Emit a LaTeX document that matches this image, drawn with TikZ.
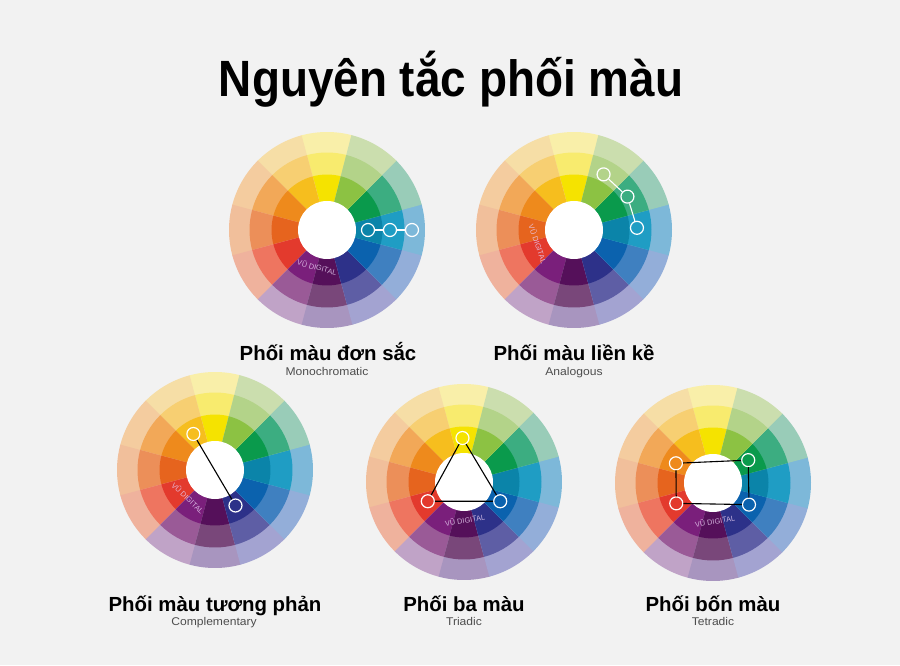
\documentclass[tikz,border=0pt]{standalone}
\usepackage{fontspec}
\setmainfont{Liberation Sans}
\newfontfamily\titlefont[FakeStretch=0.9]{Liberation Sans}
\newfontfamily\subfont[FakeStretch=1.08]{Liberation Sans}

\definecolor{bg}{HTML}{F2F2F2}
\definecolor{textgray}{HTML}{4D4D4D}
\definecolor{brandpink}{HTML}{E6CCF0}
% inner ring
\definecolor{ylwIn}{HTML}{F5E300}
\definecolor{yorIn}{HTML}{F6BE1E}
\definecolor{orgIn}{HTML}{EE8A1C}
\definecolor{rorIn}{HTML}{E6641E}
\definecolor{redIn}{HTML}{E33A2D}
\definecolor{purIn}{HTML}{7A1F7B}
\definecolor{dpuIn}{HTML}{55105A}
\definecolor{indIn}{HTML}{2D3189}
\definecolor{bluIn}{HTML}{0B62AE}
\definecolor{teaIn}{HTML}{0B84A9}
\definecolor{grnIn}{HTML}{0A9A4C}
\definecolor{ygrIn}{HTML}{8CC243}
% middle ring
\definecolor{ylwMid}{HTML}{F8EB6E}
\definecolor{yorMid}{HTML}{F7CF72}
\definecolor{orgMid}{HTML}{F2A858}
\definecolor{rorMid}{HTML}{EC8F59}
\definecolor{redMid}{HTML}{EE7560}
\definecolor{purMid}{HTML}{9A5A97}
\definecolor{dpuMid}{HTML}{79477A}
\definecolor{indMid}{HTML}{5E5EA5}
\definecolor{bluMid}{HTML}{3F80C0}
\definecolor{teaMid}{HTML}{1F9DC4}
\definecolor{grnMid}{HTML}{3CAD81}
\definecolor{ygrMid}{HTML}{B3D389}
% outer ring
\definecolor{ylwOut}{HTML}{F9EFA9}
\definecolor{yorOut}{HTML}{F6DEA6}
\definecolor{orgOut}{HTML}{F4CC9F}
\definecolor{rorOut}{HTML}{F1BF9B}
\definecolor{redOut}{HTML}{EFB29D}
\definecolor{purOut}{HTML}{C0A3C7}
\definecolor{dpuOut}{HTML}{A895BF}
\definecolor{indOut}{HTML}{A3A3D1}
\definecolor{bluOut}{HTML}{93AED9}
\definecolor{teaOut}{HTML}{7DB8D9}
\definecolor{grnOut}{HTML}{99CCB8}
\definecolor{ygrOut}{HTML}{CBDEAE}

% wheel with three rings of twelve hues, centre given as #1
\newcommand{\colorwheel}[1]{%
	\begin{scope}[shift={#1}]
		\foreach \a/\ci/\cm/\co in {90/ylwIn/ylwMid/ylwOut, 120/yorIn/yorMid/yorOut,
				150/orgIn/orgMid/orgOut, 180/rorIn/rorMid/rorOut, 210/redIn/redMid/redOut,
				240/purIn/purMid/purOut, 270/dpuIn/dpuMid/dpuOut, 300/indIn/indMid/indOut,
				330/bluIn/bluMid/bluOut, 0/teaIn/teaMid/teaOut, 30/grnIn/grnMid/grnOut,
				60/ygrIn/ygrMid/ygrOut}{
			\fill[\co] (0,0) -- (\a-15:98) arc[start angle=\a-15,end angle=\a+15.6,radius=98] -- cycle;
			\fill[\cm] (0,0) -- (\a-15:77.5) arc[start angle=\a-15,end angle=\a+15.6,radius=77.5] -- cycle;
			\fill[\ci] (0,0) -- (\a-15:55.5) arc[start angle=\a-15,end angle=\a+15.6,radius=55.5] -- cycle;
		}
		\fill[white] (0,0) circle[radius=29];
	\end{scope}}

\begin{document}
\begin{tikzpicture}[x=1pt,y=1pt,
		dot/.style={circle,draw=white,line width=1.2pt,minimum size=13pt,inner sep=0pt},
		link/.style={line width=1.1pt},
		brand/.style={text=brandpink,text opacity=0.85,font=\fontsize{7.4}{7.4}\selectfont},
		heading/.style={anchor=base,font=\bfseries\fontsize{20.4}{22}\selectfont},
		subheading/.style={anchor=base,text=textgray,font=\subfont\fontsize{11.2}{12}\selectfont}]
	\fill[bg] (0,0) rectangle (900,665);
	\node[anchor=base,font=\titlefont\bfseries\fontsize{51}{55}\selectfont] (title) at (451,568) {Nguyên tắc phối màu};

	\colorwheel{(327,435)}
	\colorwheel{(574,435)}
	\colorwheel{(215,195)}
	\colorwheel{(464,183)}
	\colorwheel{(713,182)}

	% monochromatic
	\begin{scope}[shift={(327,435)}]
		\node[dot] (mono1) at (0:41) {};
		\node[dot] (mono2) at (0:63) {};
		\node[dot] (mono3) at (0:85) {};
		\draw[link,white] (mono1) -- (mono2) (mono2) -- (mono3);
		\node[brand,rotate=-15] (brand1) at (-10,-37) {VŨ DIGITAL};
	\end{scope}
	% analogous
	\begin{scope}[shift={(574,435)}]
		\node[dot] (ana1) at (62:63) {};
		\node[dot] (ana2) at (32:63) {};
		\node[dot] (ana3) at (2:63) {};
		\draw[link,white] (ana1) -- (ana2) (ana2) -- (ana3);
		\node[brand,rotate=-71] (brand2) at (-36,-14) {VŨ DIGITAL};
	\end{scope}
	% complementary
	\begin{scope}[shift={(215,195)}]
		\node[dot] (comp1) at (121:42) {};
		\node[dot] (comp2) at (300:41) {};
		\draw[link] (comp1) -- (comp2);
		\node[brand,rotate=-43] (brand3) at (-27,-28) {VŨ DIGITAL};
	\end{scope}
	% triadic
	\begin{scope}[shift={(464,183)}]
		\node[dot] (tri1) at (92:44) {};
		\node[dot] (tri2) at (208:41) {};
		\node[dot] (tri3) at (332:41) {};
		\draw[link] (tri1) -- (tri2) (tri2) -- (tri3) (tri3) -- (tri1);
		\node[brand,rotate=10] (brand4) at (1,-38) {VŨ DIGITAL};
	\end{scope}
	% tetradic
	\begin{scope}[shift={(713,182)}]
		\node[dot] (tet1) at (152:42) {};
		\node[dot] (tet2) at (33:42) {};
		\node[dot] (tet3) at (-31:42) {};
		\node[dot] (tet4) at (209:42) {};
		\draw[link] (tet1) -- (tet2) (tet2) -- (tet3) (tet3) -- (tet4) (tet4) -- (tet1);
		\node[brand,rotate=10] (brand5) at (2,-38) {VŨ DIGITAL};
	\end{scope}

	\node[heading] (lmono) at (328,304) {Phối màu đơn sắc};
	\node[subheading] (smono) at (327,289) {Monochromatic};
	\node[heading] (lana) at (574,304) {Phối màu liền kề};
	\node[subheading] (sana) at (574,289) {Analogous};
	\node[heading] (lcomp) at (215,54) {Phối màu tương phản};
	\node[subheading] (scomp) at (214,40) {Complementary};
	\node[heading] (ltri) at (464,54) {Phối ba màu};
	\node[subheading] (stri) at (464,40) {Triadic};
	\node[heading] (ltet) at (713,54) {Phối bốn màu};
	\node[subheading] (stet) at (713,40) {Tetradic};
\end{tikzpicture}
\end{document}
